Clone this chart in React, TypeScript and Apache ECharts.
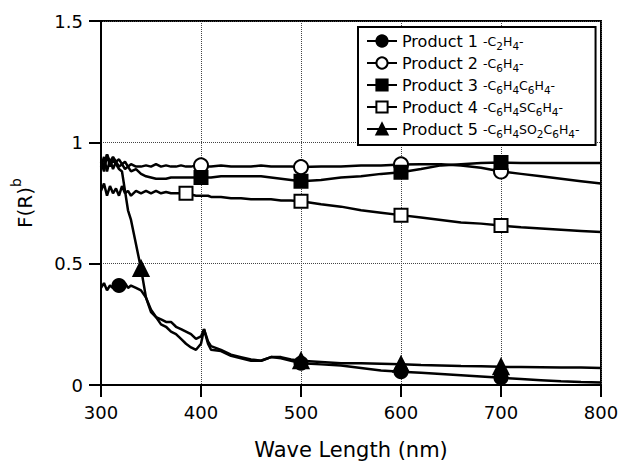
import React, { useEffect, useRef } from "react";
import * as echarts from "echarts";

const FONT = "DejaVu Sans";

const wl = [300, 303, 306, 309, 312, 315, 318, 321, 324, 327, 330, 335, 340, 345, 350, 355, 360, 365, 370, 375, 380, 385, 390, 395, 400, 403, 407, 410, 420, 430, 440, 450, 460, 470, 480, 490, 500, 520, 540, 560, 580, 600, 620, 640, 660, 680, 700, 720, 740, 760, 780, 800];

const p1 = [0.40, 0.42, 0.39, 0.41, 0.40, 0.42, 0.41, 0.40, 0.42, 0.40, 0.41, 0.40, 0.39, 0.36, 0.31, 0.28, 0.25, 0.24, 0.22, 0.21, 0.19, 0.17, 0.155, 0.145, 0.17, 0.23, 0.17, 0.145, 0.14, 0.12, 0.11, 0.10, 0.10, 0.115, 0.11, 0.10, 0.09, 0.085, 0.08, 0.07, 0.06, 0.055, 0.05, 0.045, 0.04, 0.035, 0.03, 0.025, 0.02, 0.015, 0.012, 0.01];
const p2 = [0.93, 0.90, 0.95, 0.92, 0.94, 0.92, 0.93, 0.91, 0.92, 0.90, 0.91, 0.90, 0.90, 0.905, 0.90, 0.91, 0.90, 0.905, 0.90, 0.90, 0.905, 0.90, 0.90, 0.905, 0.905, 0.905, 0.90, 0.90, 0.905, 0.90, 0.90, 0.90, 0.905, 0.90, 0.90, 0.90, 0.898, 0.90, 0.90, 0.905, 0.905, 0.909, 0.91, 0.91, 0.905, 0.895, 0.88, 0.87, 0.86, 0.85, 0.84, 0.83];
const p3 = [0.90, 0.94, 0.88, 0.93, 0.89, 0.92, 0.90, 0.91, 0.89, 0.90, 0.88, 0.89, 0.87, 0.86, 0.855, 0.85, 0.85, 0.85, 0.855, 0.855, 0.855, 0.855, 0.855, 0.855, 0.855, 0.855, 0.855, 0.855, 0.86, 0.86, 0.86, 0.86, 0.86, 0.855, 0.85, 0.845, 0.84, 0.845, 0.855, 0.86, 0.87, 0.877, 0.89, 0.905, 0.91, 0.915, 0.917, 0.915, 0.915, 0.915, 0.915, 0.915];
const p4 = [0.80, 0.83, 0.78, 0.82, 0.79, 0.81, 0.78, 0.82, 0.79, 0.80, 0.78, 0.80, 0.79, 0.80, 0.79, 0.80, 0.79, 0.795, 0.79, 0.79, 0.79, 0.79, 0.785, 0.78, 0.78, 0.78, 0.78, 0.775, 0.775, 0.77, 0.77, 0.765, 0.765, 0.765, 0.76, 0.76, 0.757, 0.745, 0.735, 0.72, 0.71, 0.70, 0.69, 0.68, 0.67, 0.665, 0.657, 0.65, 0.645, 0.64, 0.635, 0.63];
const p5 = [0.92, 0.88, 0.95, 0.90, 0.93, 0.91, 0.89, 0.88, 0.80, 0.72, 0.68, 0.58, 0.48, 0.36, 0.30, 0.28, 0.27, 0.26, 0.26, 0.24, 0.23, 0.22, 0.21, 0.19, 0.20, 0.23, 0.18, 0.16, 0.145, 0.125, 0.115, 0.105, 0.10, 0.115, 0.115, 0.105, 0.10, 0.095, 0.09, 0.09, 0.088, 0.085, 0.082, 0.08, 0.078, 0.077, 0.075, 0.074, 0.073, 0.072, 0.072, 0.07];

const markers1 = [318, 500, 600, 700];
const markers2 = [400, 500, 600, 700];
const markers3 = [400, 500, 600, 700];
const markers4 = [385, 500, 600, 700];
const markers5 = [340, 500, 600, 700];

const names = ["Product 1", "Product 2", "Product 3", "Product 4", "Product 5"];
const formulas = [
  "{c|-C}{s|2}{c|H}{s|4}{c|-}",
  "{c|-C}{s|6}{c|H}{s|4}{c|-}",
  "{c|-C}{s|6}{c|H}{s|4}{c|C}{s|6}{c|H}{s|4}{c|-}",
  "{c|-C}{s|6}{c|H}{s|4}{c|SC}{s|6}{c|H}{s|4}{c|-}",
  "{c|-C}{s|6}{c|H}{s|4}{c|SO}{s|2}{c|C}{s|6}{c|H}{s|4}{c|-}",
];

const xTicks = { min: 300, max: 800, interval: 100 };
const yTicks = { min: 0, max: 1.5, interval: 0.5 };

function buildData(ys: number[], marks: number[]) {
  return wl.map((x, i) =>
    marks.includes(x) ? { value: [x, ys[i]] } : { value: [x, ys[i]], symbol: "none" }
  );
}

export default function App() {
  const ref = useRef<HTMLDivElement>(null);
  useEffect(() => {
    if (!ref.current) return;
    const chart = echarts.init(ref.current, undefined, { renderer: "svg" });
    const seriesDefs = [
      { ys: p1, marks: markers1, symbol: "circle", fill: "#000", size: 13 },
      { ys: p2, marks: markers2, symbol: "circle", fill: "#fff", size: 14 },
      { ys: p3, marks: markers3, symbol: "rect", fill: "#000", size: 13 },
      { ys: p4, marks: markers4, symbol: "rect", fill: "#fff", size: 13 },
      { ys: p5, marks: markers5, symbol: "triangle", fill: "#000", size: 15 },
    ];
    chart.setOption({
      animation: false,
      backgroundColor: "#fff",
      grid: {
        left: 101,
        right: 20,
        top: 21,
        bottom: 81,
        show: true,
        borderColor: "#000",
        borderWidth: 2,
        containLabel: false,
        outerBoundsMode: "none",
      },
      legend: {
        orient: "vertical",
        left: 358,
        top: 27,
        itemWidth: 30,
        itemHeight: 14,
        itemGap: 4,
        padding: [6, 16, 6, 8],
        borderColor: "#000",
        borderWidth: 2,
        backgroundColor: "#fff",
        data: names,
        formatter: (name: string) => {
          const i = names.indexOf(name);
          return "{p|" + name + " }" + formulas[i];
        },
        textStyle: {
          color: "#000",
          fontFamily: FONT,
          rich: {
            p: { fontFamily: FONT, fontSize: 16, color: "#000", lineHeight: 20, verticalAlign: "middle" },
            c: { fontFamily: FONT, fontSize: 12.5, color: "#000", lineHeight: 14, verticalAlign: "middle" },
            s: { fontFamily: FONT, fontSize: 10.5, color: "#000", lineHeight: 10, verticalAlign: "bottom" },
          },
        },
      },
      xAxis: {
        type: "value",
        ...xTicks,
        name: "Wave Length (nm)",
        nameLocation: "middle",
        nameGap: 54,
        nameTextStyle: { fontFamily: FONT, fontSize: 21, color: "#000" },
        axisLine: { show: true, lineStyle: { color: "#000", width: 2 } },
        axisTick: { show: true, length: 12, lineStyle: { color: "#000", width: 2 } },
        axisLabel: { fontFamily: FONT, fontSize: 18, color: "#000", margin: 18 },
        splitLine: { show: true, lineStyle: { color: "#444", type: "dotted", width: 1 } },
      },
      yAxis: {
        type: "value",
        ...yTicks,
        name: "{m|F(R)}{u|b}",
        nameLocation: "middle",
        nameGap: 66,
        nameTextStyle: {
          fontFamily: FONT,
          fontSize: 20,
          color: "#000",
          rich: {
            m: { fontFamily: FONT, fontSize: 20, color: "#000", lineHeight: 26, verticalAlign: "bottom" },
            u: { fontFamily: FONT, fontSize: 14, color: "#000", lineHeight: 14, verticalAlign: "top" },
          },
        },
        axisLine: { show: true, lineStyle: { color: "#000", width: 2 } },
        axisTick: { show: true, length: 12, lineStyle: { color: "#000", width: 2 } },
        axisLabel: { fontFamily: FONT, fontSize: 18, color: "#000", margin: 18 },
        splitLine: { show: true, lineStyle: { color: "#444", type: "dotted", width: 1 } },
      },
      series: seriesDefs.map((d, i) => ({
        name: names[i],
        type: "line",
        symbol: d.symbol,
        symbolSize: d.size,
        showSymbol: true,
        lineStyle: { color: "#000", width: 2.5 },
        itemStyle: { color: d.fill, borderColor: "#000", borderWidth: 2 },
        emphasis: { disabled: true },
        data: buildData(d.ys, d.marks),
      })),
    });
    return () => chart.dispose();
  }, []);
  return (
    <div
      ref={ref}
      style={{ position: "fixed", left: 0, top: 0, width: 621, height: 466 }}
    />
  );
}
